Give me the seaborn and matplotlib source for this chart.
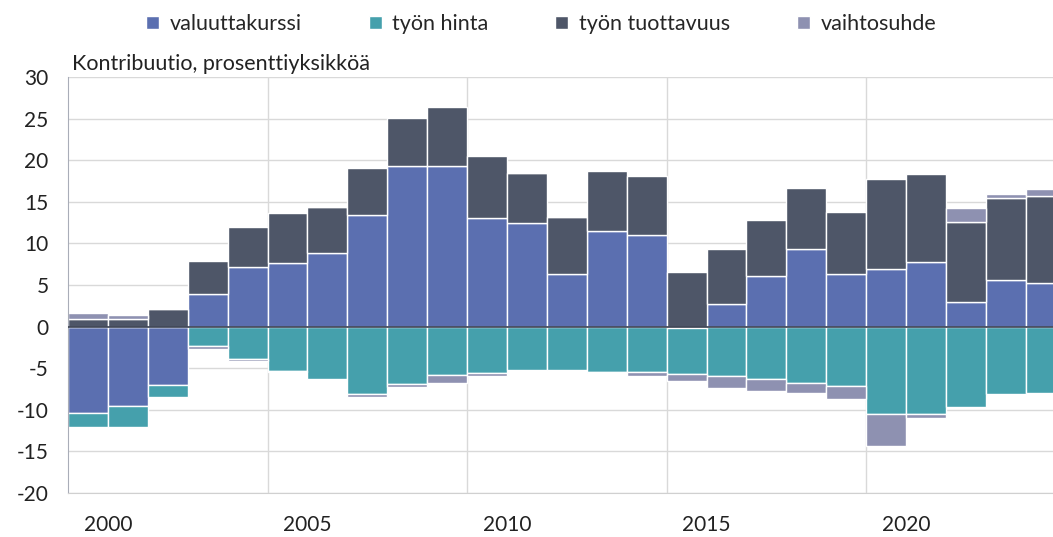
import numpy as np
import pandas as pd
import matplotlib
matplotlib.use("Agg")
import matplotlib.pyplot as plt
import seaborn as sns

years = list(range(1999, 2024))

valuuttakurssi = [-10.4, -9.6, -7.0, 3.9, 7.15, 7.6, 8.85, 13.4, 19.3, 19.3,
                  13.05, 12.4, 6.3, 11.45, 11.0, -0.2, 2.7, 6.1, 9.3, 6.3,
                  6.95, 7.8, 2.9, 5.6, 5.2]
tyon_hinta = [-1.7, -2.5, -1.4, -2.3, -3.9, -5.3, -6.35, -8.15, -6.9, -5.8,
              -5.6, -5.2, -5.2, -5.4, -5.5, -5.5, -5.9, -6.35, -6.75, -7.15,
              -10.5, -10.5, -9.7, -8.15, -7.95]
tyon_tuottavuus = [0.9, 0.9, 2.1, 4.0, 4.85, 6.0, 5.55, 5.7, 5.8, 7.05,
                   7.4, 6.1, 6.9, 7.25, 7.1, 6.6, 6.6, 6.75, 7.3, 7.5,
                   10.75, 10.5, 9.7, 9.8, 10.5]
vaihtosuhde = [0.7, 0.5, 0.0, -0.4, -0.2, -0.2, 0.0, -0.3, -0.3, -1.0,
               -0.3, 0.0, 0.0, -0.2, -0.4, -0.85, -1.5, -1.35, -1.2, -1.55,
               -3.85, -0.5, 1.65, 0.5, 0.85]

series = {
    "valuuttakurssi": (valuuttakurssi, "#5B6FB0"),
    "työn hinta": (tyon_hinta, "#45A0AC"),
    "työn tuottavuus": (tyon_tuottavuus, "#4E5668"),
    "vaihtosuhde": (vaihtosuhde, "#8E91B1"),
}

label_years = [2000, 2005, 2010, 2015, 2020]

sns.set_style("white")
plt.rcParams["font.family"] = ["Lato", "DejaVu Sans"]
plt.rcParams["axes.unicode_minus"] = False

fig = plt.figure(figsize=(10.53, 5.37), dpi=100)
ax = fig.add_axes([0.0646, 0.0819, 0.9354, 0.7747])

pos_base = np.zeros(len(years))
neg_base = np.zeros(len(years))
handles = []
for name, (vals, col) in series.items():
    v = np.array(vals)
    bottom = np.where(v >= 0, pos_base, neg_base)
    df = pd.DataFrame({"vuosi": years, "arvo": v})
    n_before = len(ax.containers)
    sns.barplot(data=df, x="vuosi", y="arvo", native_scale=True, width=1,
                errorbar=None, color=col, saturation=1, bottom=bottom,
                edgecolor="white", linewidth=1.0, ax=ax, label=name)
    handles.append(ax.containers[n_before])
    pos_base = pos_base + np.where(v >= 0, v, 0)
    neg_base = neg_base + np.where(v < 0, v, 0)

ax.set_ylim(-20, 30)
ax.set_xlim(1998.5, 2023.18)
ax.set_yticks(range(-20, 31, 5))
ax.set_xticks([y - 0.5 for y in label_years], [str(y) for y in label_years])
ax.set_xticks([2003.5, 2008.5, 2013.5, 2018.5], minor=True)
ax.set_axisbelow(True)
ax.grid(axis="y", color="#D9D9D9", linewidth=1)
ax.grid(axis="x", which="minor", color="#D9D9D9", linewidth=1)
ax.axhline(0, color="#3B4252", linewidth=1.2, zorder=5)
ax.set_xlabel("")
ax.set_ylabel("")
ax.tick_params(axis="both", which="both", length=0, labelsize=15,
               colors="#222222")
ax.tick_params(axis="x", pad=16)
ax.tick_params(axis="y", pad=14)
ax.spines["left"].set_color("#A9ADB8")
ax.spines["bottom"].set_color("#D0D0D0")
ax.spines["top"].set_visible(False)
ax.spines["right"].set_visible(False)
if ax.get_legend() is not None:
    ax.get_legend().remove()

fig.text(0.0684, 0.862, "Kontribuutio, prosenttiyksikköä", fontsize=15.5,
         color="#222222", ha="left", va="bottom")

fig.legend(handles=handles, labels=list(series.keys()), loc="center",
           bbox_to_anchor=(0.514, 0.955), ncol=4, frameon=False,
           fontsize=15.5, handlelength=0.6, handleheight=0.6,
           handletextpad=0.5, columnspacing=3.1)

fig.savefig("out.png", dpi=100)
